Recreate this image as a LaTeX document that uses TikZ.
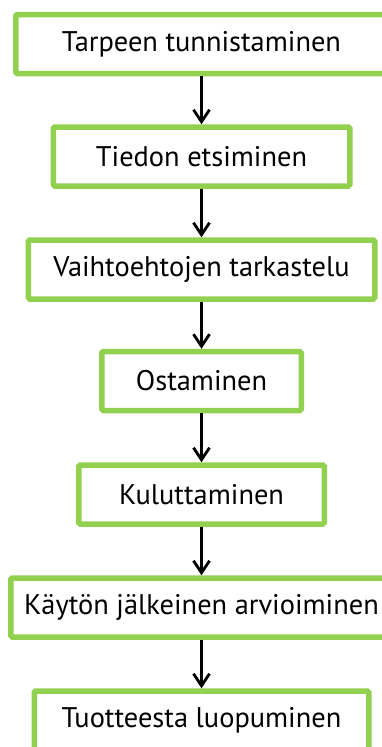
\documentclass[tikz,border=0pt]{standalone}
\usepackage{fontspec}
\setmainfont{PT Sans}
\usetikzlibrary{arrows.meta}
\definecolor{boxgreen}{HTML}{92D050}
\tikzset{
  stepbox/.style={draw=boxgreen, line width=5.5pt, rounded corners=1.5pt, fill=white,
    minimum height=59pt, inner sep=0pt, font=\fontsize{28.4pt}{32pt}\selectfont, text=black},
  flowarrow/.style={line width=2.8pt, -{Straight Barb[length=12pt, width=16pt]}}
}
\begin{document}
\begin{tikzpicture}[x=1pt, y=-1pt]
\useasboundingbox (0,0) rectangle (382,747);
\clip (0,0) rectangle (382,747);
\node[stepbox, minimum width=371.5pt] (n1) at (201.5,44) {Tarpeen tunnistaminen};
\node[stepbox, minimum width=296.5pt] (n2) at (201.5,156.5) {Tiedon etsiminen};
\node[stepbox, minimum width=346.5pt] (n3) at (201.5,269.5) {Vaihtoehtojen tarkastelu};
\node[stepbox, minimum width=199.5pt] (n4) at (201.5,381) {Ostaminen};
\node[stepbox, minimum width=245.5pt] (n5) at (201.5,494.5) {Kuluttaminen};
\node[stepbox, minimum width=381.5pt] (n6) at (201.5,607.5) {Käytön jälkeinen arvioiminen};
\node[stepbox, minimum width=334.5pt] (n7) at (201.5,720.5) {Tuotteesta luopuminen};
\foreach \a/\b in {n1/n2,n2/n3,n3/n4,n4/n5,n5/n6,n6/n7}
  \draw[flowarrow] (\a.south) -- (\b.north);
\end{tikzpicture}
\end{document}
